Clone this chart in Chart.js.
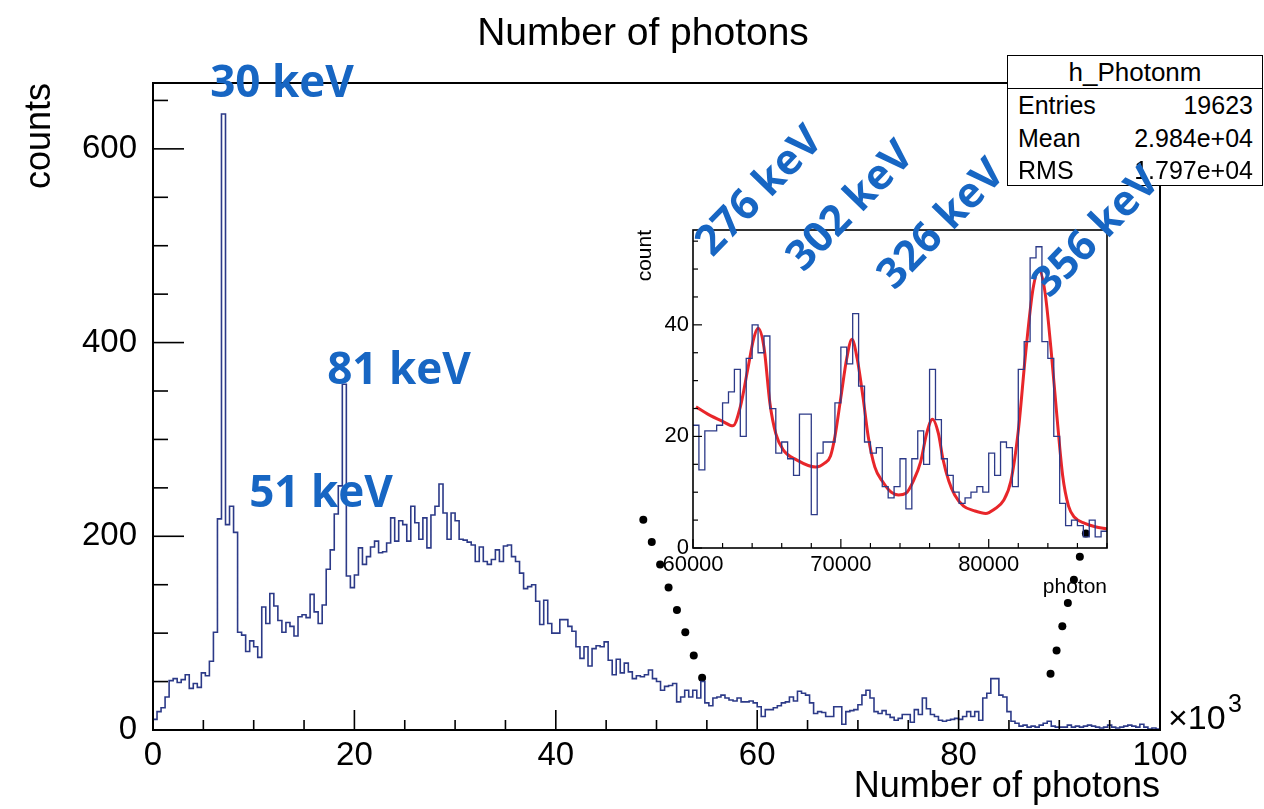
<!DOCTYPE html>
<html>
<head>
<meta charset="utf-8">
<script src="https://cdn.jsdelivr.net/npm/chart.js@4.4.1/dist/chart.umd.min.js"></script>
<style>
  html, body { margin: 0; padding: 0; background: #fff; }
  #wrap { position: relative; width: 1264px; height: 809px; overflow: hidden; }
  #mainChart { position: absolute; left: 0; top: 0; }
  #insetChart { position: absolute; left: 600px; top: 210px; }
  #stats { position: absolute; left: 1007px; top: 55px; width: 256px; height: 131px;
           border: 1.5px solid #000; background: #fff; box-sizing: border-box;
           font-family: "Liberation Sans", Arial, sans-serif; color: #000; }
  #stats .head { height: 32px; line-height: 32px; text-align: center; font-size: 26px;
                 border-bottom: 1.5px solid #000; }
  #stats .row { position: relative; height: 32.5px; line-height: 32.5px; font-size: 25px; }
  #stats .row span { position: absolute; }
  #stats .row .k { left: 10px; }
  #stats .row .v { right: 9px; }
  .peak { position: absolute; font-family: "Open Sans", sans-serif; font-weight: 700;
          color: #1766c3; white-space: nowrap; line-height: 1; }
</style>
</head>
<body>
<div id="wrap">
  <canvas id="mainChart" width="1264" height="809"></canvas>
  <div id="stats"></div>
  <canvas id="insetChart" width="520" height="400"></canvas>
</div>
<script>
// photon-count histogram, 250 bins of 400 photons (axis in units of 10^3)
const binWidthK = 0.4;
const mainCounts = [
  11, 19, 23, 34, 51, 53, 49, 52, 57, 43, 48, 44, 59, 56, 71, 101, 218, 636, 212, 231,
  204, 101, 98, 81, 92, 86, 75, 127, 110, 141, 128, 113, 101, 111, 107, 97, 117, 119, 116, 140,
  122, 110, 129, 166, 186, 223, 252, 357, 159, 147, 160, 188, 171, 179, 189, 195, 183, 184, 193, 219,
  195, 216, 212, 195, 231, 214, 197, 219, 188, 222, 231, 254, 224, 197, 224, 216, 197, 196, 194, 191,
  174, 189, 174, 171, 176, 186, 174, 190, 191, 179, 174, 162, 146, 148, 150, 133, 109, 134, 110, 100,
  100, 114, 114, 107, 102, 86, 74, 86, 66, 84, 87, 86, 91, 72, 57, 73, 59, 69, 60, 53,
  56, 55, 57, 62, 53, 50, 41, 45, 46, 48, 29, 34, 41, 34, 41, 33, 50, 28, 25, 33,
  34, 36, 33, 31, 30, 33, 29, 29, 30, 28, 24, 14, 21, 21, 23, 25, 28, 29, 34, 30,
  40, 38, 36, 28, 17, 19, 18, 14, 14, 24, 24, 6, 19, 20, 21, 26, 36, 41, 33, 19,
  17, 20, 16, 13, 10, 12, 16, 16, 8, 21, 16, 33, 22, 16, 14, 10, 9, 10, 11, 12,
  11, 14, 19, 14, 19, 10, 33, 38, 53, 53, 36, 34, 19, 9, 7, 4, 5, 3, 4, 3,
  5, 7, 9, 4, 3, 3, 3, 5, 3, 4, 3, 4, 5, 4, 3, 2, 3, 5, 3, 2,
  3, 4, 5, 4, 3, 6, 3, 1, 2, 1
];
const mainXTicks = [0, 20, 40, 60, 80, 100];
const mainYTicks = [0, 200, 400, 600];

// zoom guide dots (x in 10^3 photons, y in counts)
const leftDotsX = [48.69, 49.53, 50.36, 51.2, 52.03, 52.86, 53.7, 54.53];
const leftDotsY = [217, 194, 171, 147, 124, 101, 77, 54];
const rightDotsX = [92.64, 92.04, 91.45, 90.85, 90.3, 89.73, 89.13];
const rightDotsY = [203, 179, 155, 131, 107, 82, 58];

// zoomed region 60000-88000, bins of 400 photons
const insetStart = 60000;
const insetBinWidth = 400;
const insetCounts = [
  22, 14, 21, 21, 22, 26, 28, 32, 20, 34, 40, 35, 38, 25, 17, 19, 16, 13, 24, 24,
  6, 17, 19, 19, 26, 36, 33, 42, 29, 19, 17, 18, 11, 9, 11, 16, 7, 16, 21, 15,
  32, 23, 16, 13, 10, 8, 9, 10, 11, 10, 17, 13, 19, 18, 11, 32, 37, 52, 54, 37,
  34, 20, 8, 4, 5, 4, 2, 5, 2, 3
];
const insetXTicks = [60000, 70000, 80000];
const insetYTicks = [0, 20, 40];

// fitted peaks + background, sampled along the curve
const fitX = [60200, 61000, 62000, 62700, 63200, 63700, 64100, 64400, 64800, 65200, 65600, 66100,
  67000, 68300, 68900, 69300, 69600, 70000, 70400, 70750, 71100, 71500, 71850, 72300, 72800,
  73400, 73900, 74400, 74900, 75400, 75800, 76200, 76600, 76900, 77300, 77700, 78300, 79000,
  79800, 80400, 81000, 81500, 82000, 82500, 83000, 83400, 83800, 84200, 84600, 85000, 85400,
  85800, 86500, 87200, 88000];
const fitY = [25.3, 24.0, 22.7, 21.9, 25.3, 32, 37.5, 39.4, 36, 26, 20.5, 17.6,
  15.8, 14.5, 15.2, 16.5, 20, 27, 34, 37.4, 34, 27, 20, 14.5, 12,
  10, 9.5, 9.8, 12, 15.5, 20.5, 23.1, 20.5, 16, 12, 9.5, 7.5, 6.7,
  6.2, 7, 8.5, 12, 21, 35, 46.5, 49.8, 46, 36, 24, 13, 7.5,
  5.5, 4.4, 3.8, 3.4];

const statsTitle = 'h_Photonm';
const statsKeys = ['Entries', 'Mean', 'RMS'];
const statsVals = ['19623', '2.984e+04', '1.797e+04'];

const peakLabels = [
  { text: '30 keV', cx: 282, cy: 80, size: 44, rot: 0 },
  { text: '81 keV', cx: 399, cy: 367, size: 44, rot: 0 },
  { text: '51 keV', cx: 321, cy: 490, size: 44, rot: 0 },
  { text: '276 keV', cx: 757, cy: 189, size: 42, rot: -46 },
  { text: '302 keV', cx: 848, cy: 204, size: 42, rot: -46 },
  { text: '326 keV', cx: 939, cy: 222, size: 42, rot: -46 },
  { text: '356 keV', cx: 1094, cy: 230, size: 42, rot: -46 }
];

const navy = '#2c3a88';
const rootFont = '"Liberation Sans", Arial, sans-serif';

// left bin edges, plus the right edge of the last bin
function stepPoints(counts, start, width) {
  const pts = counts.map((c, i) => ({ x: start + i * width, y: c }));
  pts.push({ x: start + counts.length * width, y: counts[counts.length - 1] });
  return pts;
}

function dots(xs, ys) {
  return xs.map((x, i) => ({ x: x, y: ys[i] }));
}

function fixedTicks(values) {
  return s => { s.ticks = values.map(v => ({ value: v })); };
}

// frame plus ROOT-style inward ticks, drawn from the chart scales
const frameTicks = {
  id: 'frameTicks',
  afterDatasetsDraw(chart, args, o) {
    const { ctx, chartArea: a, scales: { x, y } } = chart;
    ctx.save();
    ctx.strokeStyle = '#000';
    ctx.lineWidth = o.lineWidth;
    ctx.strokeRect(a.left, a.top, a.right - a.left, a.bottom - a.top);
    ctx.lineWidth = o.tickWidth;
    const isMajor = (v, step) => Math.abs(v / step - Math.round(v / step)) < 1e-6;
    for (let v = x.min; v <= x.max + 1e-9; v += o.xMinor) {
      const px = x.getPixelForValue(v);
      const len = isMajor(v, o.xMajor) ? o.xMajorLen : o.xMinorLen;
      ctx.beginPath();
      ctx.moveTo(px, a.bottom);
      ctx.lineTo(px, a.bottom - len);
      ctx.stroke();
    }
    for (let v = y.min; v <= y.max + 1e-9; v += o.yMinor) {
      const py = y.getPixelForValue(v);
      const len = isMajor(v, o.yMajor) ? o.yMajorLen : o.yMinorLen;
      ctx.beginPath();
      ctx.moveTo(a.left, py);
      ctx.lineTo(a.left + len, py);
      ctx.stroke();
    }
    ctx.restore();
  }
};

// title and the x10^3 exponent of the main axis
const mainText = {
  id: 'mainText',
  afterDraw(chart) {
    const { ctx, chartArea: a } = chart;
    ctx.save();
    ctx.fillStyle = '#000';
    ctx.font = '39px ' + rootFont;
    ctx.textAlign = 'center';
    ctx.textBaseline = 'alphabetic';
    ctx.fillText('Number of photons', 643, 45);
    ctx.textAlign = 'left';
    ctx.font = '34px ' + rootFont;
    ctx.fillText('\u00d710', a.right + 8, a.bottom - 1);
    ctx.font = '25px ' + rootFont;
    ctx.fillText('3', a.right + 68, a.bottom - 18);
    ctx.restore();
  }
};

new Chart(document.getElementById('mainChart').getContext('2d'), {
  type: 'line',
  data: {
    datasets: [
      {
        data: stepPoints(mainCounts, 0, binWidthK),
        stepped: 'before',
        borderColor: navy,
        borderWidth: 1.6,
        pointRadius: 0,
        fill: false
      },
      {
        data: dots(leftDotsX, leftDotsY),
        showLine: false,
        pointRadius: 4,
        pointBackgroundColor: '#000',
        pointBorderWidth: 0
      },
      {
        data: dots(rightDotsX, rightDotsY),
        showLine: false,
        pointRadius: 4,
        pointBackgroundColor: '#000',
        pointBorderWidth: 0
      }
    ]
  },
  options: {
    responsive: false,
    animation: false,
    devicePixelRatio: 1,
    layout: { padding: { left: 0, top: 83, right: 104, bottom: 0 } },
    plugins: {
      legend: { display: false },
      tooltip: { enabled: false },
      frameTicks: {
        lineWidth: 2, tickWidth: 1.6,
        xMinor: 5, xMajor: 20, xMajorLen: 20, xMinorLen: 10,
        yMinor: 50, yMajor: 200, yMajorLen: 31, yMinorLen: 15
      }
    },
    scales: {
      x: {
        type: 'linear',
        min: 0, max: 100,
        grid: { display: false, drawTicks: false },
        border: { display: false },
        afterBuildTicks: fixedTicks(mainXTicks),
        ticks: { maxRotation: 0, autoSkip: false, padding: 6, color: '#000',
                 font: { family: rootFont, size: 33 } },
        title: { display: true, text: 'Number of photons', align: 'end', color: '#000',
                 padding: { top: 0, bottom: 0 }, font: { family: rootFont, size: 36 } },
        afterFit(s) { s.height = 79; }
      },
      y: {
        min: 0, max: 668,
        grid: { display: false, drawTicks: false },
        border: { display: false },
        afterBuildTicks: fixedTicks(mainYTicks),
        ticks: { autoSkip: false, padding: 16, color: '#000',
                 font: { family: rootFont, size: 33 } },
        title: { display: true, text: 'counts', align: 'end', color: '#000',
                 padding: { top: 18, bottom: 0 }, font: { family: rootFont, size: 36 } },
        afterFit(s) { s.width = 153; }
      }
    }
  },
  plugins: [frameTicks, mainText]
});

new Chart(document.getElementById('insetChart').getContext('2d'), {
  type: 'line',
  data: {
    datasets: [
      {
        data: stepPoints(insetCounts, insetStart, insetBinWidth),
        stepped: 'before',
        borderColor: navy,
        borderWidth: 1.3,
        pointRadius: 0,
        fill: false
      },
      {
        data: fitX.map((x, i) => ({ x: x, y: fitY[i] })),
        borderColor: '#e8262a',
        borderWidth: 3,
        pointRadius: 0,
        cubicInterpolationMode: 'monotone',
        fill: false
      }
    ]
  },
  options: {
    responsive: false,
    animation: false,
    devicePixelRatio: 1,
    layout: { padding: { left: 0, top: 20, right: 13, bottom: 0 } },
    plugins: {
      legend: { display: false },
      tooltip: { enabled: false },
      frameTicks: {
        lineWidth: 1.6, tickWidth: 1.2,
        xMinor: 2000, xMajor: 10000, xMajorLen: 9, xMinorLen: 5,
        yMinor: 5, yMajor: 20, yMajorLen: 9, yMinorLen: 5
      }
    },
    scales: {
      x: {
        type: 'linear',
        min: 60000, max: 88000,
        grid: { display: false, drawTicks: false },
        border: { display: false },
        afterBuildTicks: fixedTicks(insetXTicks),
        ticks: { maxRotation: 0, autoSkip: false, padding: 4, color: '#000',
                 font: { family: rootFont, size: 22 }, callback: v => String(v) },
        title: { display: true, text: 'photon', align: 'end', color: '#000',
                 padding: { top: 0, bottom: 10 }, font: { family: rootFont, size: 21 } },
        afterFit(s) { s.height = 62; }
      },
      y: {
        min: 0, max: 57,
        grid: { display: false, drawTicks: false },
        border: { display: false },
        afterBuildTicks: fixedTicks(insetYTicks),
        ticks: { autoSkip: false, padding: 4, color: '#000',
                 font: { family: rootFont, size: 22 } },
        title: { display: true, text: 'count', align: 'end', color: '#000',
                 padding: { top: 33, bottom: 0 }, font: { family: rootFont, size: 21 } },
        afterFit(s) { s.width = 93; }
      }
    }
  },
  plugins: [frameTicks]
});

// statistics box
const stats = document.getElementById('stats');
let html = '<div class="head">' + statsTitle + '</div>';
statsKeys.forEach((k, i) => {
  html += '<div class="row"><span class="k">' + k + '</span><span class="v">' + statsVals[i] + '</span></div>';
});
stats.innerHTML = html;

// peak energy labels, drawn on top of everything
const wrap = document.getElementById('wrap');
peakLabels.forEach(p => {
  const d = document.createElement('div');
  d.className = 'peak';
  d.textContent = p.text;
  d.style.fontSize = p.size + 'px';
  d.style.left = p.cx + 'px';
  d.style.top = p.cy + 'px';
  d.style.transform = 'translate(-50%, -50%) rotate(' + p.rot + 'deg)';
  wrap.appendChild(d);
});
</script>
</body>
</html>
